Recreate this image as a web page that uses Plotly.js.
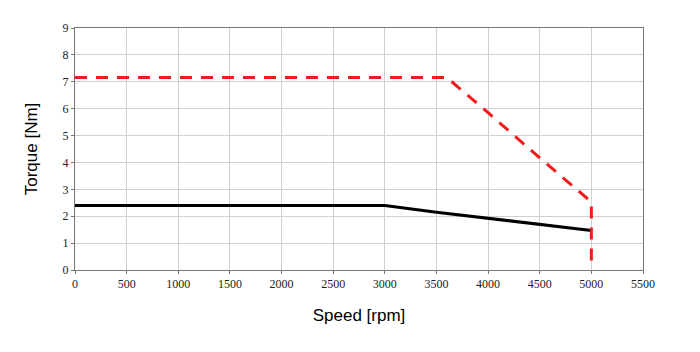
<!DOCTYPE html>
<html><head><meta charset="utf-8">
<script src="https://cdn.plot.ly/plotly-3.0.1.min.js"></script>
<style>html,body{margin:0;padding:0;background:#fff}#c{width:700px;height:352px}</style>
</head><body><div id="c"></div>
<script>
const peakSpeed = [0, 3600, 4000, 4500, 5000, 5000];
const peakTorque = [7.16, 7.16, 5.85, 4.17, 2.53, 0.3];
const contSpeed = [0, 3000, 3500, 4000, 4500, 5000];
const contTorque = [2.4, 2.4, 2.15, 1.92, 1.7, 1.47];
const xTicks = [0,500,1000,1500,2000,2500,3000,3500,4000,4500,5000,5500];
const yTicks = [0,1,2,3,4,5,6,7,8,9];

const traces = [
  {x: contSpeed, y: contTorque, mode: 'lines', line: {color: '#000', width: 3}, name: 'Continuous'},
  {x: peakSpeed, y: peakTorque, mode: 'lines', line: {color: '#ee1c1c', width: 3, dash: '12px,9px'}, name: 'Peak'}
];
const axisCommon = {
  showgrid: true, gridcolor: '#d0d0d0', gridwidth: 1,
  showline: true, linecolor: '#777', linewidth: 1, mirror: true,
  ticks: 'outside', ticklen: 3, tickcolor: '#777',
  zeroline: false,
  tickfont: {family: 'Liberation Serif, Times New Roman, serif', size: 12, color: '#222'}
};
const layout = {
  width: 700, height: 352,
  margin: {l: 75, r: 57, t: 28, b: 82},
  paper_bgcolor: '#fff', plot_bgcolor: '#fff',
  showlegend: false,
  xaxis: Object.assign({}, axisCommon, {
    range: [0, 5500], tickvals: xTicks, ticktext: xTicks.map(String),
    title: {text: 'Speed [rpm]', font: {family: 'Liberation Sans, Arial, sans-serif', size: 17, color: '#000'}, standoff: 18}
  }),
  yaxis: Object.assign({}, axisCommon, {
    range: [0, 9], tickvals: yTicks, ticktext: yTicks.map(String),
    title: {text: 'Torque [Nm]', font: {family: 'Liberation Sans, Arial, sans-serif', size: 17, color: '#000'}, standoff: 20}
  })
};
Plotly.newPlot('c', traces, layout, {displayModeBar: false, staticPlot: true});
</script></body></html>
